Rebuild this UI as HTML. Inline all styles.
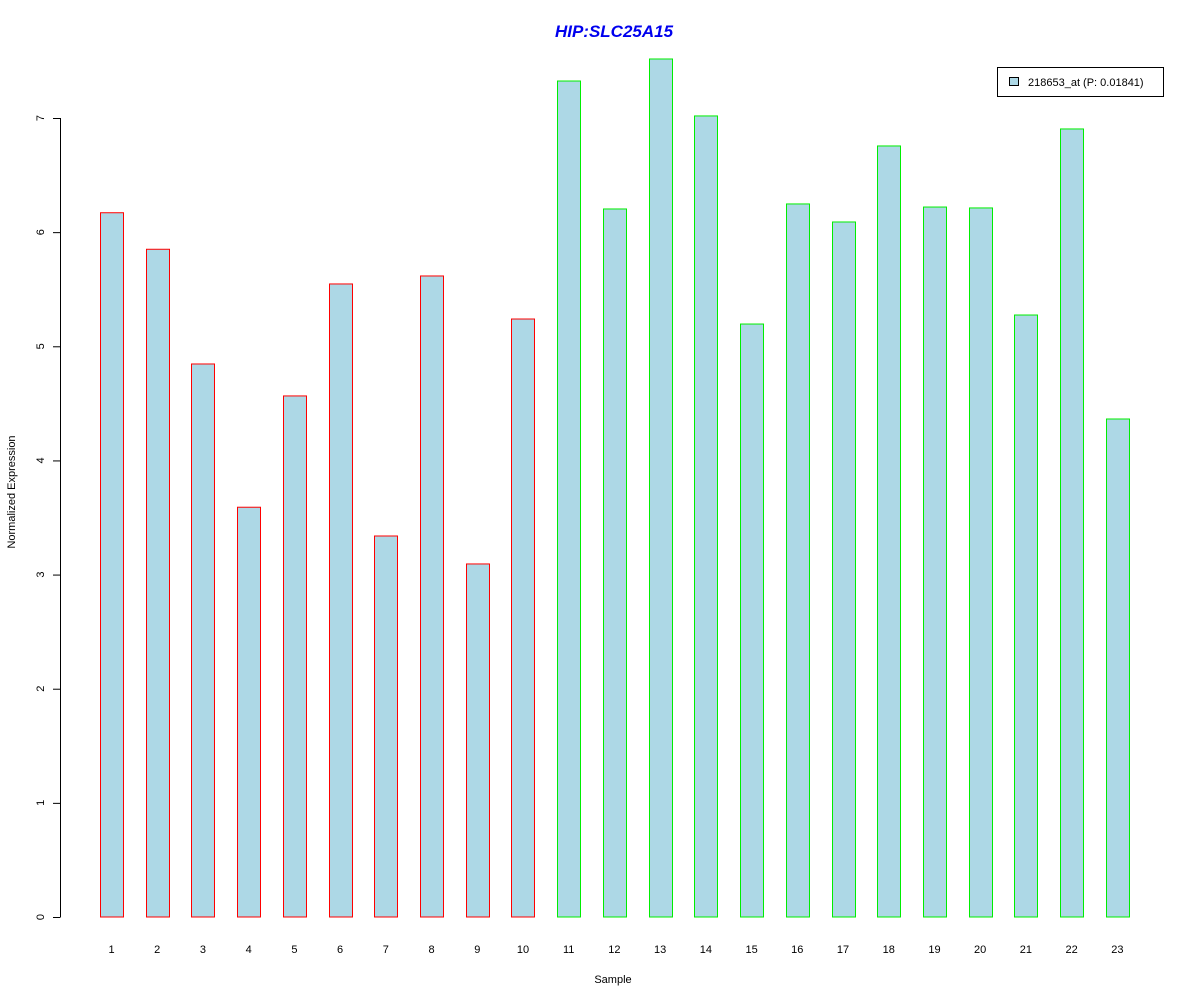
<!DOCTYPE html>
<html><head><meta charset="utf-8"><style>
body{margin:0;background:#fff;}
svg{display:block;font-family:"Liberation Sans",Arial,sans-serif;}
</style></head><body>
<svg id="chart" width="1200" height="1000">
<text x="614" y="37" text-anchor="middle" font-size="17" font-weight="bold" font-style="italic" fill="#0000ee">HIP:SLC25A15</text>
<text x="613" y="983" text-anchor="middle" font-size="11">Sample</text>
<text transform="translate(15,492) rotate(-90)" text-anchor="middle" font-size="11">Normalized Expression</text>
<g id="yaxis"></g>
<g id="bars"></g>
<g id="xlabels"></g>
<g>
<rect x="997.5" y="67.5" width="166" height="29" fill="#fff" stroke="#000"/>
<rect x="1009.5" y="77.5" width="9" height="8" fill="#add8e6" stroke="#000"/>
<text x="1028" y="86" font-size="11">218653_at (P: 0.01841)</text>
</g>
</svg>
<script>
const categories=["1","2","3","4","5","6","7","8","9","10","11","12","13","14","15","16","17","18","19","20","21","22","23"];
const values=[6.17,5.85,4.845,3.59,4.565,5.546,3.338,5.616,3.093,5.239,7.324,6.203,7.517,7.018,5.195,6.247,6.089,6.755,6.22,6.212,5.274,6.904,4.363];
const groups=["a","a","a","a","a","a","a","a","a","a","b","b","b","b","b","b","b","b","b","b","b","b","b"];
const yTicks=[0,1,2,3,4,5,6,7];
const NS="http://www.w3.org/2000/svg";
const y=v=>917-v*(799/7);
const x=i=>111.5+i*45.72;
function mk(t,a,p){const e=document.createElementNS(NS,t);for(const k in a)e.setAttribute(k,a[k]);p.appendChild(e);return e;}
const ya=document.getElementById('yaxis');
mk('line',{x1:60.5,x2:60.5,y1:y(0),y2:y(7),stroke:'#000'},ya);
yTicks.forEach(t=>{
 const l=mk('line',{x1:53,x2:60.5,y1:y(t)+0.5,y2:y(t)+0.5,stroke:'#000'},ya);
 
 
 const tx=mk('text',{transform:`translate(44,${y(t)}) rotate(-90)`,'text-anchor':'middle','font-size':'11'},ya);
 tx.textContent=t;
 
 
});
const bg=document.getElementById('bars'),xl=document.getElementById('xlabels');
values.forEach((v,i)=>{
 const r=mk('rect',{x:Math.round(x(i)-11.5)+0.5,y:y(v),width:23,height:y(0)-y(v),fill:'#add8e6',stroke:groups[i]==='a'?'#ff0000':'#00ee00'},bg);
 
 
 const t=mk('text',{x:x(i),y:953,'text-anchor':'middle','font-size':'11'},xl);
 t.textContent=categories[i];
 
 
});
</script>
</body></html>
